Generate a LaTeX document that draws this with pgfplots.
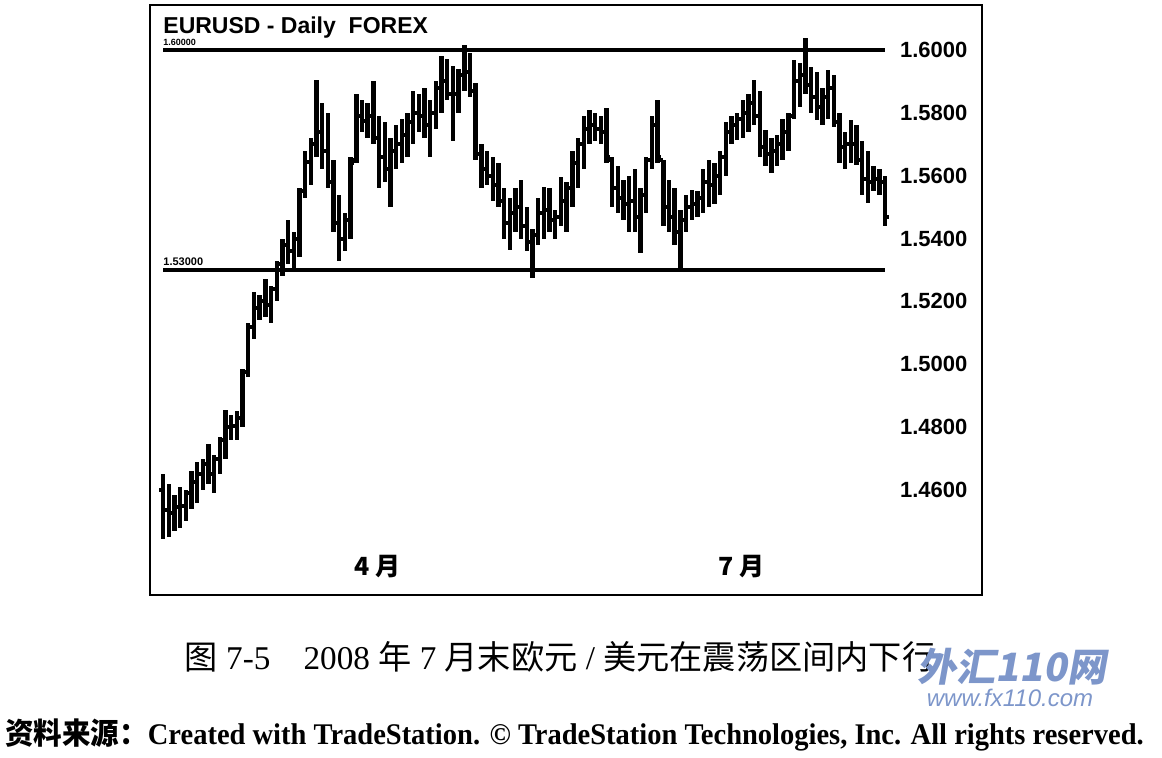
\documentclass[border=0pt]{standalone}
\usepackage{graphicx}
\usepackage{fontspec}
\setmainfont{Liberation Serif}
\newfontfamily\arialf{Liberation Sans}
\newfontfamily\cjk{Noto Sans CJK SC}
\newfontfamily\cjkslant[FakeSlant=0.18]{Noto Sans CJK SC}
\usepackage{pgfplots}
\usepackage{pgfplotstable}
\pgfplotsset{compat=1.18}
\definecolor{wm}{RGB}{125,150,202}
\pgfdeclareplotmark{otick}{\pgfpathmoveto{\pgfqpoint{0pt}{0pt}}\pgfpathlineto{\pgfqpoint{-\pgfplotmarksize}{0pt}}\pgfusepathqstroke}
\pgfdeclareplotmark{ctick}{\pgfpathmoveto{\pgfqpoint{0pt}{0pt}}\pgfpathlineto{\pgfqpoint{\pgfplotmarksize}{0pt}}\pgfusepathqstroke}
\pgfplotstableread{
i o h l c
0 1.4600 1.4650 1.4445 1.4535
1 1.4535 1.4620 1.4450 1.4528
2 1.4528 1.4585 1.4470 1.4545
3 1.4545 1.4610 1.4480 1.4550
4 1.4550 1.4600 1.4500 1.4590
5 1.4590 1.4660 1.4540 1.4625
6 1.4625 1.4690 1.4560 1.4650
7 1.4650 1.4700 1.4600 1.4683
8 1.4683 1.4745 1.4620 1.4650
9 1.4650 1.4710 1.4590 1.4700
10 1.4700 1.4770 1.4650 1.4760
11 1.4760 1.4855 1.4700 1.4800
12 1.4800 1.4840 1.4760 1.4805
13 1.4805 1.4850 1.4760 1.4830
14 1.4830 1.4985 1.4800 1.4975
15 1.4975 1.5130 1.4960 1.5120
16 1.5120 1.5230 1.5080 1.5180
17 1.5180 1.5220 1.5140 1.5200
18 1.5200 1.5270 1.5150 1.5190
19 1.5190 1.5250 1.5130 1.5240
20 1.5240 1.5330 1.5200 1.5320
21 1.5320 1.5400 1.5280 1.5380
22 1.5380 1.5460 1.5320 1.5360
23 1.5360 1.5420 1.5300 1.5400
24 1.5400 1.5560 1.5340 1.5550
25 1.5550 1.5680 1.5530 1.5645
26 1.5645 1.5720 1.5570 1.5700
27 1.5700 1.5905 1.5660 1.5740
28 1.5740 1.5830 1.5620 1.5680
29 1.5680 1.5800 1.5560 1.5580
30 1.5580 1.5650 1.5420 1.5450
31 1.5450 1.5540 1.5330 1.5400
32 1.5400 1.5480 1.5360 1.5460
33 1.5460 1.5660 1.5400 1.5640
34 1.5650 1.5860 1.5640 1.5790
35 1.5790 1.5840 1.5740 1.5775
36 1.5775 1.5830 1.5720 1.5790
37 1.5790 1.5900 1.5700 1.5720
38 1.5720 1.5790 1.5560 1.5660
39 1.5660 1.5770 1.5580 1.5620
40 1.5620 1.5720 1.5500 1.5680
41 1.5680 1.5760 1.5620 1.5700
42 1.5700 1.5780 1.5640 1.5730
43 1.5730 1.5800 1.5660 1.5770
44 1.5770 1.5870 1.5700 1.5800
45 1.5800 1.5860 1.5740 1.5790
46 1.5790 1.5880 1.5720 1.5760
47 1.5760 1.5840 1.5660 1.5800
48 1.5800 1.5900 1.5750 1.5880
49 1.5880 1.5980 1.5800 1.5900
50 1.5900 1.5970 1.5840 1.5860
51 1.5860 1.5950 1.5710 1.5860
52 1.5860 1.5940 1.5800 1.5920
53 1.5920 1.6016 1.5870 1.5930
54 1.5930 1.5990 1.5850 1.5870
55 1.5870 1.5895 1.5650 1.5670
56 1.5670 1.5700 1.5560 1.5620
57 1.5620 1.5680 1.5570 1.5600
58 1.5600 1.5660 1.5520 1.5570
59 1.5570 1.5640 1.5500 1.5520
60 1.5520 1.5560 1.5400 1.5450
61 1.5450 1.5530 1.5364 1.5480
62 1.5480 1.5560 1.5420 1.5500
63 1.5500 1.5586 1.5400 1.5440
64 1.5440 1.5500 1.5360 1.5390
65 1.5390 1.5430 1.5275 1.5410
66 1.5410 1.5530 1.5380 1.5480
67 1.5480 1.5564 1.5400 1.5490
68 1.5490 1.5560 1.5420 1.5460
69 1.5460 1.5490 1.5400 1.5470
70 1.5470 1.5595 1.5440 1.5520
71 1.5520 1.5580 1.5420 1.5560
72 1.5560 1.5680 1.5500 1.5640
73 1.5640 1.5720 1.5560 1.5700
74 1.5700 1.5790 1.5620 1.5750
75 1.5750 1.5810 1.5700 1.5760
76 1.5760 1.5800 1.5710 1.5750
77 1.5750 1.5790 1.5700 1.5740
78 1.5740 1.5815 1.5640 1.5660
79 1.5650 1.5660 1.5500 1.5560
80 1.5560 1.5630 1.5480 1.5530
81 1.5530 1.5586 1.5460 1.5510
82 1.5510 1.5600 1.5420 1.5520
83 1.5520 1.5620 1.5420 1.5470
84 1.5470 1.5560 1.5354 1.5540
85 1.5540 1.5660 1.5480 1.5650
86 1.5650 1.5790 1.5620 1.5760
87 1.5760 1.5840 1.5640 1.5660
88 1.5650 1.5650 1.5440 1.5500
89 1.5500 1.5586 1.5420 1.5470
90 1.5470 1.5560 1.5380 1.5420
91 1.5420 1.5490 1.5306 1.5460
92 1.5460 1.5540 1.5420 1.5500
93 1.5500 1.5555 1.5460 1.5510
94 1.5510 1.5550 1.5470 1.5530
95 1.5530 1.5620 1.5480 1.5580
96 1.5580 1.5650 1.5500 1.5570
97 1.5570 1.5640 1.5510 1.5600
98 1.5600 1.5680 1.5540 1.5660
99 1.5660 1.5770 1.5600 1.5740
100 1.5740 1.5790 1.5700 1.5760
101 1.5760 1.5800 1.5714 1.5780
102 1.5780 1.5840 1.5720 1.5800
103 1.5800 1.5860 1.5740 1.5830
104 1.5830 1.5905 1.5760 1.5790
105 1.5790 1.5870 1.5660 1.5690
106 1.5690 1.5745 1.5630 1.5670
107 1.5670 1.5720 1.5610 1.5680
108 1.5680 1.5730 1.5630 1.5700
109 1.5700 1.5780 1.5650 1.5740
110 1.5740 1.5800 1.5680 1.5790
111 1.5790 1.5968 1.5780 1.5900
112 1.5900 1.5960 1.5820 1.5920
113 1.5920 1.6038 1.5860 1.5890
114 1.5890 1.5946 1.5800 1.5850
115 1.5850 1.5930 1.5777 1.5820
116 1.5820 1.5880 1.5760 1.5850
117 1.5850 1.5936 1.5780 1.5880
118 1.5880 1.5920 1.5755 1.5770
119 1.5770 1.5800 1.5640 1.5690
120 1.5690 1.5740 1.5620 1.5700
121 1.5700 1.5777 1.5640 1.5700
122 1.5700 1.5760 1.5634 1.5650
123 1.5650 1.5710 1.5540 1.5590
124 1.5590 1.5680 1.5513 1.5580
125 1.5580 1.5630 1.5550 1.5590
126 1.5590 1.5620 1.5540 1.5580
127 1.5580 1.5600 1.5440 1.5470
}\ohlc
\begin{document}
\begin{tikzpicture}
\path[use as bounding box] (0,0) rectangle (581pt,378.5pt);
\begin{axis}[
  at={(75pt,81pt)}, anchor=south west,
  scale only axis, width=416pt, height=295pt,
  xmin=-2.29, xmax=144.06, ymin=1.4266, ymax=1.6143,
  axis line style={line width=1.3pt},
  ytick={1.46,1.48,1.50,1.52,1.54,1.56,1.58,1.60},
  yticklabel pos=right,
  yticklabel={\pgfmathprintnumber[fixed,fixed zerofill,precision=4]{\tick}},
  /pgf/number format/assume math mode=true,
  yticklabel style={anchor=west, xshift=-44.5pt, font=\arialf\bfseries\fontsize{11}{11}\selectfont},
  xtick={37.8,101.8},
  xticklabels={4 月,7 月},
  xticklabel style={anchor=center, yshift=14pt, font=\cjk\bfseries\fontsize{12.5}{12.5}\selectfont},
  major tick length=0pt,
  tick style={draw=none},
  clip=false,
]
\addplot[black, line width=1.75pt] coordinates {(0,1.6) (127,1.6)};
\addplot[black, line width=1.75pt] coordinates {(0,1.53) (127,1.53)};
\addplot[black, only marks, mark=ctick, mark size=1.8pt, mark options={line width=2pt},
  error bars/.cd, y dir=both, y explicit, error mark=none,
  error bar style={line width=2.2pt, black}]
  table[x=i, y=c, y error plus expr=\thisrow{h}-\thisrow{c}, y error minus expr=\thisrow{c}-\thisrow{l}] {\ohlc};
\addplot[black, only marks, mark=otick, mark size=1.8pt, mark options={line width=2pt}]
  table[x=i, y=o] {\ohlc};
\node[anchor=south west, inner sep=0pt, font=\arialf\bfseries\fontsize{5.5}{5.5}\selectfont] at (axis cs:0,1.5312) {1.53000};
\node[anchor=south west, inner sep=0pt, font=\arialf\bfseries\fontsize{4.5}{4.5}\selectfont] at (axis cs:0,1.6012) {1.60000};
\node[anchor=west, inner sep=0pt, font=\arialf\bfseries\fontsize{11.5}{11.5}\selectfont] at (axis cs:0,1.6071) {EURUSD - Daily\ \ FOREX};
\end{axis}
\node[anchor=center, inner sep=0pt, font=\fontsize{16.6}{16.6}\selectfont] at (280pt,50pt)
  {{\cjk 图} 7-5\hspace{1em}2008 {\cjk 年} 7 {\cjk 月末欧元} / {\cjk 美元在震荡区间内下行}};
\node[anchor=center, inner sep=0pt, text=wm, font=\cjkslant\bfseries\fontsize{19.5}{19.5}\selectfont] at (506pt,45pt) {外汇110网};
\node[anchor=center, inner sep=0pt, text=wm, font=\arialf\itshape\fontsize{12}{12}\selectfont] at (505pt,29.5pt) {www.fx110.com};
\node[anchor=west, inner sep=0pt, font=\bfseries\fontsize{15}{15}\selectfont] at (2.5pt,11pt)
  {\scalebox{0.95}[1]{{\cjk 资料来源：}Created with TradeStation. © TradeStation Technologies, Inc. All rights reserved.}};
\end{tikzpicture}
\end{document}
